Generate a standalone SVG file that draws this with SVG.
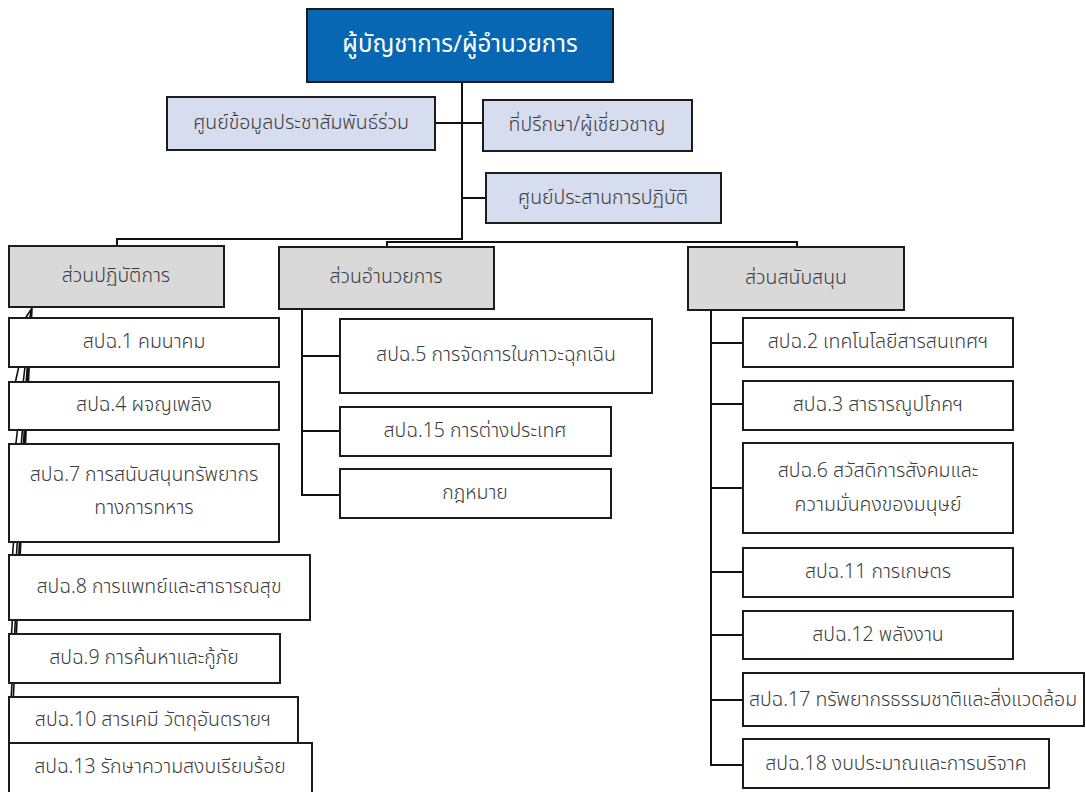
<svg xmlns="http://www.w3.org/2000/svg" width="1086" height="792" viewBox="0 0 1086 792">
  <style>
    text { font-family: "Noto Sans Thai", "Noto Sans", "DejaVu Sans", sans-serif; font-size: 19.5px; font-weight: 300; fill: #3c3c3c; text-anchor: middle; dominant-baseline: central; }
    .title { fill: #ffffff; font-size: 24px; font-weight: 400; }
    .box { stroke: #1c1c1c; stroke-width: 2; }
    .head { fill: #0767b3; }
    .staff { fill: #d6ddef; }
    .dept { fill: #d9d9d9; }
    .unit { fill: #ffffff; }
    .wire { fill: none; stroke: #111111; stroke-width: 2; }
    .fan { fill: none; stroke: #111111; stroke-width: 1.6; }
  </style>
  <rect width="1086" height="792" fill="#ffffff"/>

  <!-- connectors (drawn first, boxes sit on top) -->
  <g id="connectors">
    <path class="wire" d="M462 82 V240"/>
    <path class="wire" d="M435 123 H483"/>
    <path class="wire" d="M462 198 H486"/>
    <path class="wire" d="M117 247 V239 H462"/>
    <path class="wire" d="M387 247 V242 H797 V247"/>
    <!-- operations wing: compressed fan to its units -->
    <path class="fan" d="M32 308 L10 342 M32 308 L10 406 M32 308 L10 493 M32 308 L10 587 M32 308 L10 658 M32 308 L10 720 M32 308 L10 767"/>
    <!-- directorate wing -->
    <path class="wire" d="M302 309 V495 H340 M302 356 H340 M302 431 H340"/>
    <!-- support wing -->
    <path class="wire" d="M711 310 V765 H743 M711 343 H743 M711 404 H743 M711 488 H743 M711 572 H743 M711 635 H743 M711 700 H743"/>
  </g>

  <g id="director">
    <rect class="box head" x="307" y="9" width="306" height="73"/>
    <text class="title" x="460" y="45">ผู้บัญชาการ/ผู้อำนวยการ</text>
  </g>
  <g id="pr-center">
    <rect class="box staff" x="167" y="97" width="268" height="53"/>
    <text x="301" y="123">ศูนย์ข้อมูลประชาสัมพันธ์ร่วม</text>
  </g>
  <g id="advisors">
    <rect class="box staff" x="483" y="100" width="209" height="51"/>
    <text x="587" y="125">ที่ปรึกษา/ผู้เชี่ยวชาญ</text>
  </g>
  <g id="coordination-center">
    <rect class="box staff" x="486" y="173" width="235" height="50"/>
    <text x="603" y="198">ศูนย์ประสานการปฏิบัติ</text>
  </g>

  <g id="operations">
    <rect class="box dept" x="9" y="246" width="215" height="61"/>
    <text x="116" y="276">ส่วนปฏิบัติการ</text>
  </g>
  <g id="directorate">
    <rect class="box dept" x="279" y="247" width="215" height="62"/>
    <text x="386" y="277">ส่วนอำนวยการ</text>
  </g>
  <g id="support">
    <rect class="box dept" x="688" y="247" width="216" height="63"/>
    <text x="796" y="278">ส่วนสนับสนุน</text>
  </g>

  <!-- operations units -->
  <g id="esf1">
    <rect class="box unit" x="9" y="318" width="270" height="49"/>
    <text x="144" y="342">สปฉ.1 คมนาคม</text>
  </g>
  <g id="esf4">
    <rect class="box unit" x="9" y="382" width="270" height="48"/>
    <text x="144" y="405">สปฉ.4 ผจญเพลิง</text>
  </g>
  <g id="esf7">
    <rect class="box unit" x="9" y="444" width="270" height="98"/>
    <text x="144" y="475">สปฉ.7 การสนับสนุนทรัพยากร</text>
    <text x="144" y="508">ทางการทหาร</text>
  </g>
  <g id="esf8">
    <rect class="box unit" x="9" y="555" width="301" height="65"/>
    <text x="159" y="587">สปฉ.8 การแพทย์และสาธารณสุข</text>
  </g>
  <g id="esf9">
    <rect class="box unit" x="9" y="634" width="271" height="49"/>
    <text x="144" y="658">สปฉ.9 การค้นหาและกู้ภัย</text>
  </g>
  <g id="esf10">
    <rect class="box unit" x="9" y="697" width="289" height="46"/>
    <text x="153" y="720">สปฉ.10 สารเคมี วัตถุอันตรายฯ</text>
  </g>
  <g id="esf13">
    <rect class="box unit" x="9" y="743" width="303" height="50"/>
    <text x="160" y="767">สปฉ.13 รักษาความสงบเรียบร้อย</text>
  </g>

  <!-- directorate units -->
  <g id="esf5">
    <rect class="box unit" x="340" y="319" width="312" height="74"/>
    <text x="496" y="355">สปฉ.5 การจัดการในภาวะฉุกเฉิน</text>
  </g>
  <g id="esf15">
    <rect class="box unit" x="340" y="407" width="271" height="49"/>
    <text x="475" y="431">สปฉ.15 การต่างประเทศ</text>
  </g>
  <g id="legal">
    <rect class="box unit" x="340" y="469" width="271" height="49"/>
    <text x="475" y="493">กฎหมาย</text>
  </g>

  <!-- support units -->
  <g id="esf2">
    <rect class="box unit" x="743" y="318" width="270" height="49"/>
    <text x="878" y="342">สปฉ.2 เทคโนโลยีสารสนเทศฯ</text>
  </g>
  <g id="esf3">
    <rect class="box unit" x="743" y="381" width="270" height="49"/>
    <text x="878" y="405">สปฉ.3 สาธารณูปโภคฯ</text>
  </g>
  <g id="esf6">
    <rect class="box unit" x="743" y="443" width="270" height="90"/>
    <text x="878" y="471">สปฉ.6 สวัสดิการสังคมและ</text>
    <text x="878" y="505">ความมั่นคงของมนุษย์</text>
  </g>
  <g id="esf11">
    <rect class="box unit" x="743" y="548" width="270" height="49"/>
    <text x="878" y="572">สปฉ.11 การเกษตร</text>
  </g>
  <g id="esf12">
    <rect class="box unit" x="743" y="611" width="270" height="48"/>
    <text x="878" y="635">สปฉ.12 พลังงาน</text>
  </g>
  <g id="esf17">
    <rect class="box unit" x="743" y="673" width="341" height="53"/>
    <text x="913" y="700">สปฉ.17 ทรัพยากรธรรมชาติและสิ่งแวดล้อม</text>
  </g>
  <g id="esf18">
    <rect class="box unit" x="743" y="739" width="306" height="49"/>
    <text x="896" y="764">สปฉ.18 งบประมาณและการบริจาค</text>
  </g>
</svg>
